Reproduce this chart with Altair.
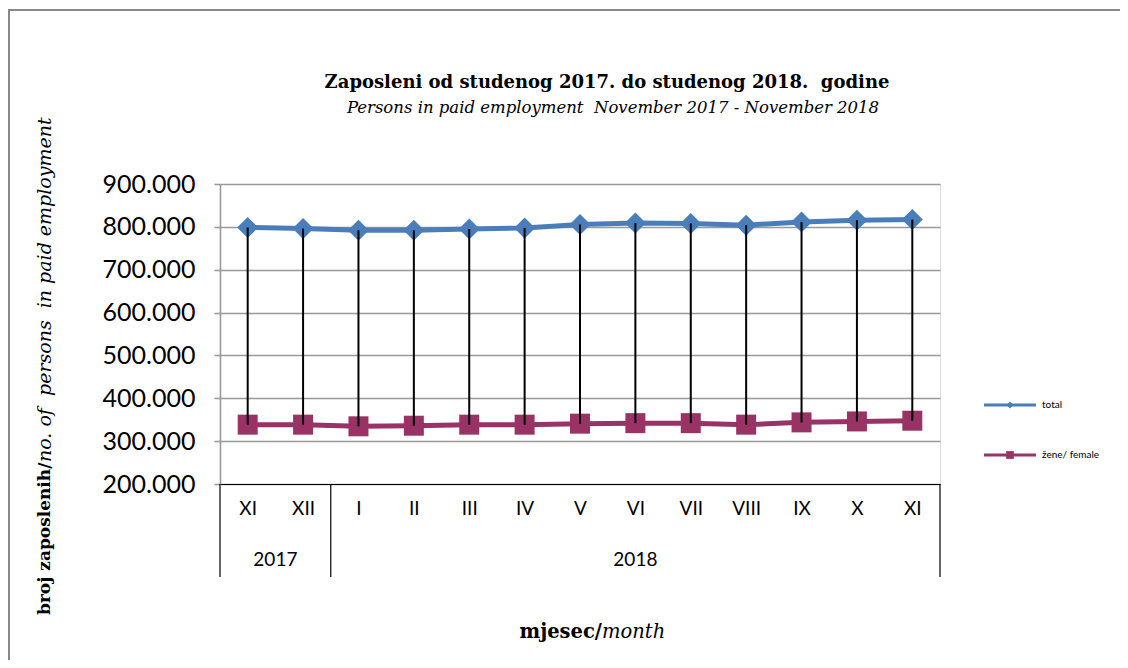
import altair as alt
import pandas as pd

months = ["XI", "XII", "I", "II", "III", "IV", "V", "VI", "VII", "VIII", "IX", "X", "XI"]
years = ["2017", "2017", "2018", "2018", "2018", "2018", "2018", "2018", "2018", "2018", "2018", "2018", "2018"]
total = [798500, 796000, 792000, 792000, 795000, 797500, 805500, 809000, 808000, 804000, 811500, 815500, 817000]
female = [338500, 338500, 334600, 336000, 338500, 338500, 340800, 342000, 342000, 338500, 343800, 346000, 347700]
y_ticks = [200000, 300000, 400000, 500000, 600000, 700000, 800000, 900000]
series_names = ["total", "žene/ female"]
NB = "\u00a0"
title_main = "Zaposleni od studenog 2017. do studenog 2018." + NB + " godine"
title_sub = "Persons in paid employment" + NB + " November 2017 - November 2018"
ytitle_bold = "broj zaposlenih/"
ytitle_ital = NB + "no. of" + NB + " persons" + NB + " in paid employment"
xtitle_bold = "mjesec/"
xtitle_ital = "month"

BLUE = "#4A7EBB"
MAROON = "#993366"
W, H = 720, 300

pos = [i + 0.5 for i in range(len(months))]
df = pd.DataFrame({"pos": pos, "month": months, "year": years, "total": total, "female": female})

# year group spans
yr_rows = []
for y in dict.fromkeys(years):
    idx = [i for i, v in enumerate(years) if v == y]
    yr_rows.append({"year": y, "mid": (idx[0] + idx[-1] + 1) / 2, "start": idx[0]})
yr_df = pd.DataFrame(yr_rows)
div_df = pd.DataFrame({"x": list(yr_df["start"]) + [len(months)]})

label_expr = "[" + ",".join("'%s'" % m for m in months) + "][floor(datum.value)]"

xs = alt.Scale(domain=[0, len(months)], nice=False, zero=False)
ys = alt.Scale(domain=[200000, 900000], nice=False, zero=False)

x_enc = alt.X("pos:Q", scale=xs, axis=alt.Axis(
    values=pos, labelExpr=label_expr, title=None, ticks=False, grid=False,
    domainColor="black", domainWidth=1.2, labelFont="Liberation Sans Narrow, Lato",
    labelFontSize=19, labelColor="black", labelPadding=24, labelBaseline="middle"))
y_axis = alt.Axis(values=y_ticks, labelExpr="replace(format(datum.value, ','), ',', '.')",
                  title=None, grid=True, gridColor="#999999", gridWidth=1.6,
                  domainColor="#999999", domainWidth=1.6, tickColor="#999999", tickWidth=1.6,
                  tickSize=6, labelFont="Lato", labelFontSize=25, labelColor="black", labelPadding=19)

base = alt.Chart(df)

total_line = base.mark_line(color=BLUE, strokeWidth=5).encode(
    x=x_enc, y=alt.Y("total:Q", scale=ys, axis=y_axis))
total_pts = base.mark_point(shape="diamond", filled=True, size=440, color=BLUE, opacity=1).encode(
    x=alt.X("pos:Q", scale=xs), y=alt.Y("total:Q", scale=ys))
fem_line = base.mark_line(color=MAROON, strokeWidth=5).encode(
    x=alt.X("pos:Q", scale=xs), y=alt.Y("female:Q", scale=ys))
fem_pts = base.mark_point(shape="square", filled=True, size=400, color=MAROON, opacity=1).encode(
    x=alt.X("pos:Q", scale=xs), y=alt.Y("female:Q", scale=ys))
drops = base.mark_rule(color="black", strokeWidth=2).encode(
    x=alt.X("pos:Q", scale=xs), y=alt.Y("total:Q", scale=ys), y2="female:Q")

# x-axis table: dividers and year labels
dividers = alt.Chart(div_df).mark_rule(color="black", strokeWidth=1.2).encode(
    x=alt.X("x:Q", scale=xs), y=alt.value(H), y2=alt.value(H + 93))
year_txt = alt.Chart(yr_df).mark_text(font="Liberation Sans Narrow, Lato", fontSize=19,
                                      color="black", baseline="middle").encode(
    x=alt.X("mid:Q", scale=xs), y=alt.value(H + 76), text="year:N")

def txt(s, x, y, **kw):
    return alt.Chart(pd.DataFrame({"t": [s]})).mark_text(**kw).encode(
        x=alt.value(x), y=alt.value(y), text="t:N")

serif = "DejaVu Serif"
titles = [
    txt(title_main, 387, -101, font=serif, fontSize=18, fontWeight="bold", color="black", baseline="middle"),
    txt(title_sub, 393, -76, font=serif, fontSize=16.5, fontStyle="italic", color="black", baseline="middle"),
    txt(ytitle_bold, -175, 431, font=serif, fontSize=17, fontWeight="bold", color="black",
        angle=270, align="left", baseline="middle"),
    txt(ytitle_ital, -175, 278, font=serif, fontSize=19, fontStyle="italic", color="black",
        angle=270, align="left", baseline="middle"),
    txt(xtitle_bold, 382, 448, font=serif, fontSize=19.5, fontWeight="bold", color="black",
        align="right", baseline="middle"),
    txt(xtitle_ital, 382, 448, font=serif, fontSize=19.5, fontStyle="italic", color="black",
        align="left", baseline="middle"),
]

# legend
leg_y = [221, 271]
leg_cols = [BLUE, MAROON]
leg_shapes = ["diamond", "square"]
leg = []
for name, ly, c, shp in zip(series_names, leg_y, leg_cols, leg_shapes):
    d = pd.DataFrame({"t": [name]})
    leg.append(alt.Chart(d).mark_rule(color=c, strokeWidth=3).encode(
        x=alt.value(764), x2=alt.value(816), y=alt.value(ly)))
    leg.append(alt.Chart(d).mark_point(shape=shp, filled=True, opacity=1, color=c,
                                       size=50 if shp == "diamond" else 60).encode(
        x=alt.value(790), y=alt.value(ly)))
    leg.append(alt.Chart(d).mark_text(font="Liberation Sans Narrow, Lato", fontSize=10, color="black",
                                      align="left", baseline="middle").encode(
        x=alt.value(822), y=alt.value(ly), text="t:N"))

# outer border (top and left)
border = [
    alt.Chart(pd.DataFrame({"t": [0]})).mark_rule(color="#888888", strokeWidth=2).encode(
        x=alt.value(-212), x2=alt.value(908), y=alt.value(-174)),
    alt.Chart(pd.DataFrame({"t": [0]})).mark_rule(color="#888888", strokeWidth=2).encode(
        x=alt.value(-211), y=alt.value(-175), y2=alt.value(476)),
]

chart = alt.layer(
    total_line, fem_line, total_pts, fem_pts, drops, dividers, year_txt, *titles, *leg, *border
).properties(
    width=W, height=H,
    autosize=alt.AutoSizeParams(type="none"),
    padding={"left": 212, "top": 176, "right": 180, "bottom": 176},
).configure_view(stroke=None).configure(background="white")

chart.save("out.html", embed_options={"renderer": "svg", "actions": False})
